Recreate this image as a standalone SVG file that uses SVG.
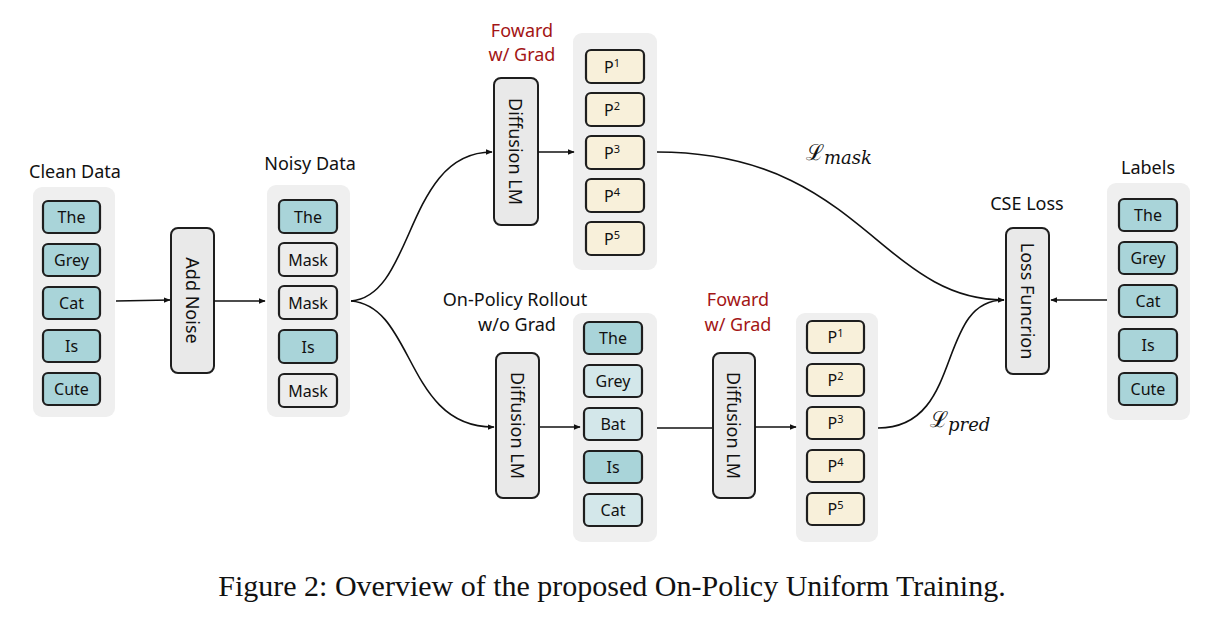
<svg xmlns="http://www.w3.org/2000/svg" width="1207" height="619" viewBox="0 0 1207 619">
<defs>
<marker id="ah" viewBox="0 0 10 10" refX="9" refY="5" markerWidth="7" markerHeight="7" orient="auto" markerUnits="userSpaceOnUse"><path d="M0,1 L10,5 L0,9 z" fill="#111"/></marker>
<style>
.panel{fill:#efefef;stroke:none}
.tok{stroke:#1e1e1e;stroke-width:2.2}
.teal{fill:#a9d4d9}
.lteal{fill:#d3e7ea}
.grey{fill:#ececec}
.cream{fill:#f8f0da}
.box{fill:#e9e9e9;stroke:#1e1e1e;stroke-width:2}
.t{font-family:"Noto Sans","DejaVu Sans",sans-serif;font-size:16px;fill:#111;text-anchor:middle;dominant-baseline:central}
.ttl{font-family:"Noto Sans","DejaVu Sans",sans-serif;font-size:18px;fill:#111;text-anchor:middle}
.red{fill:#a31515}
.vt{font-family:"Noto Sans","DejaVu Sans",sans-serif;font-size:18px;fill:#111;text-anchor:middle;dominant-baseline:central}
.ln{fill:none;stroke:#111;stroke-width:1.6}
.math{font-family:"DejaVu Serif","Liberation Serif",serif;font-size:22px;fill:#111}
.cap{font-family:"Liberation Serif","Times New Roman",serif;font-size:30px;fill:#111;text-anchor:middle}
</style>
</defs>
<rect width="1207" height="619" fill="#fff"/>

<g id="clean-data">
<text class="ttl" x="75" y="178">Clean Data</text>
<rect class="panel" x="33" y="187" width="82" height="230" rx="9"/>
<rect class="tok teal" x="43" y="201" width="57" height="32" rx="5"/><text class="t" x="71.5" y="217">The</text>
<rect class="tok teal" x="43" y="244" width="57" height="32" rx="5"/><text class="t" x="71.5" y="260">Grey</text>
<rect class="tok teal" x="43" y="287" width="57" height="32" rx="5"/><text class="t" x="71.5" y="303">Cat</text>
<rect class="tok teal" x="43" y="330" width="57" height="32" rx="5"/><text class="t" x="71.5" y="346">Is</text>
<rect class="tok teal" x="43" y="373" width="57" height="32" rx="5"/><text class="t" x="71.5" y="389">Cute</text>
</g>

<g id="add-noise">
<rect class="box" x="171" y="228" width="43" height="145" rx="7"/>
<text class="vt" transform="translate(192.5,300.5) rotate(90)">Add Noise</text>
</g>

<g id="noisy-data">
<text class="ttl" x="310" y="170">Noisy Data</text>
<rect class="panel" x="267" y="185" width="83" height="232" rx="9"/>
<rect class="tok teal" x="279" y="200" width="58" height="33" rx="5"/><text class="t" x="308" y="216.5">The</text>
<rect class="tok grey" x="279" y="243" width="58" height="33" rx="5"/><text class="t" x="308" y="259.5">Mask</text>
<rect class="tok grey" x="279" y="286" width="58" height="33" rx="5"/><text class="t" x="308" y="302.5">Mask</text>
<rect class="tok teal" x="279" y="330" width="58" height="33" rx="5"/><text class="t" x="308" y="346.5">Is</text>
<rect class="tok grey" x="279" y="374" width="58" height="33" rx="5"/><text class="t" x="308" y="390.5">Mask</text>
</g>

<g id="diffusion-top">
<text class="ttl red" x="522" y="37">Foward</text>
<text class="ttl red" x="522" y="61">w/ Grad</text>
<rect class="box" x="494" y="78" width="44" height="147" rx="7"/>
<text class="vt" transform="translate(516,151.5) rotate(90)">Diffusion LM</text>
</g>

<g id="pred-top">
<rect class="panel" x="573" y="33" width="84" height="237" rx="9"/>
<rect class="tok cream" x="586" y="50" width="58" height="33" rx="5"/><text class="t" x="612" y="66.5">P<tspan font-size="11" dy="-5">1</tspan></text>
<rect class="tok cream" x="586" y="93" width="58" height="33" rx="5"/><text class="t" x="612" y="109.5">P<tspan font-size="11" dy="-5">2</tspan></text>
<rect class="tok cream" x="586" y="136" width="58" height="33" rx="5"/><text class="t" x="612" y="152.5">P<tspan font-size="11" dy="-5">3</tspan></text>
<rect class="tok cream" x="586" y="179" width="58" height="33" rx="5"/><text class="t" x="612" y="195.5">P<tspan font-size="11" dy="-5">4</tspan></text>
<rect class="tok cream" x="586" y="222" width="58" height="33" rx="5"/><text class="t" x="612" y="238.5">P<tspan font-size="11" dy="-5">5</tspan></text>
</g>

<g id="diffusion-rollout">
<text class="ttl" x="515" y="306">On-Policy Rollout</text>
<text class="ttl" x="517" y="331">w/o Grad</text>
<rect class="box" x="496" y="353" width="43" height="145" rx="7"/>
<text class="vt" transform="translate(517.5,425.5) rotate(90)">Diffusion LM</text>
</g>

<g id="rollout-data">
<rect class="panel" x="573" y="313" width="84" height="229" rx="9"/>
<rect class="tok teal" x="584" y="322" width="58" height="32" rx="5"/><text class="t" x="613" y="338">The</text>
<rect class="tok lteal" x="584" y="365" width="58" height="32" rx="5"/><text class="t" x="613" y="381">Grey</text>
<rect class="tok lteal" x="584" y="408" width="58" height="32" rx="5"/><text class="t" x="613" y="424">Bat</text>
<rect class="tok teal" x="584" y="451" width="58" height="32" rx="5"/><text class="t" x="613" y="467">Is</text>
<rect class="tok lteal" x="584" y="494" width="58" height="32" rx="5"/><text class="t" x="613" y="510">Cat</text>
</g>

<g id="diffusion-bottom">
<text class="ttl red" x="738" y="306">Foward</text>
<text class="ttl red" x="738" y="331">w/ Grad</text>
<rect class="box" x="713" y="353" width="42" height="145" rx="7"/>
<text class="vt" transform="translate(734,425.5) rotate(90)">Diffusion LM</text>
</g>

<g id="pred-bottom">
<rect class="panel" x="796" y="313" width="82" height="229" rx="9"/>
<rect class="tok cream" x="807" y="321" width="57" height="32" rx="5"/><text class="t" x="835.5" y="337">P<tspan font-size="11" dy="-5">1</tspan></text>
<rect class="tok cream" x="807" y="364" width="57" height="32" rx="5"/><text class="t" x="835.5" y="380">P<tspan font-size="11" dy="-5">2</tspan></text>
<rect class="tok cream" x="807" y="407" width="57" height="32" rx="5"/><text class="t" x="835.5" y="423">P<tspan font-size="11" dy="-5">3</tspan></text>
<rect class="tok cream" x="807" y="450" width="57" height="32" rx="5"/><text class="t" x="835.5" y="466">P<tspan font-size="11" dy="-5">4</tspan></text>
<rect class="tok cream" x="807" y="493" width="57" height="32" rx="5"/><text class="t" x="835.5" y="509">P<tspan font-size="11" dy="-5">5</tspan></text>
</g>

<g id="loss-labels">
<text class="math" x="806" y="160">ℒ<tspan font-style="italic" font-size="18" dy="4">mask</tspan></text>
<text class="math" x="930" y="427">ℒ<tspan font-style="italic" font-size="18" dy="4">pred</tspan></text>
</g>

<g id="loss-function">
<text class="ttl" x="1027" y="210">CSE Loss</text>
<rect class="box" x="1006" y="228" width="43" height="146" rx="7"/>
<text class="vt" transform="translate(1027.5,301) rotate(90)">Loss Funcrion</text>
</g>

<g id="labels">
<text class="ttl" x="1148" y="174">Labels</text>
<rect class="panel" x="1107" y="183" width="83" height="237" rx="9"/>
<rect class="tok teal" x="1119" y="199" width="58" height="32" rx="5"/><text class="t" x="1148" y="215">The</text>
<rect class="tok teal" x="1119" y="242" width="58" height="32" rx="5"/><text class="t" x="1148" y="258">Grey</text>
<rect class="tok teal" x="1119" y="285" width="58" height="32" rx="5"/><text class="t" x="1148" y="301">Cat</text>
<rect class="tok teal" x="1119" y="329" width="58" height="32" rx="5"/><text class="t" x="1148" y="345">Is</text>
<rect class="tok teal" x="1119" y="373" width="58" height="32" rx="5"/><text class="t" x="1148" y="389">Cute</text>
</g>

<g id="connectors">
<path class="ln" d="M116,301 L170,300" marker-end="url(#ah)"/>
<path class="ln" d="M214,301 L265,301" marker-end="url(#ah)"/>
<path class="ln" d="M351,301 C415,296 405,152 492,152" marker-end="url(#ah)"/>
<path class="ln" d="M351,301 C415,306 405,428 494,427" marker-end="url(#ah)"/>
<path class="ln" d="M538,152 L574,152" marker-end="url(#ah)"/>
<path class="ln" d="M540,427 L580,427" marker-end="url(#ah)"/>
<path class="ln" d="M657,428 L712,428"/>
<path class="ln" d="M755,427 L796,427" marker-end="url(#ah)"/>
<path class="ln" d="M657,152 C860,152 880,300 1004,300" marker-end="url(#ah)"/>
<path class="ln" d="M878,428 C965,428 935,300 1004,300"/>
<path class="ln" d="M1107,300 L1051,300" marker-end="url(#ah)"/>
</g>

<text class="cap" x="612" y="596">Figure 2: Overview of the proposed On-Policy Uniform Training.</text>
</svg>
